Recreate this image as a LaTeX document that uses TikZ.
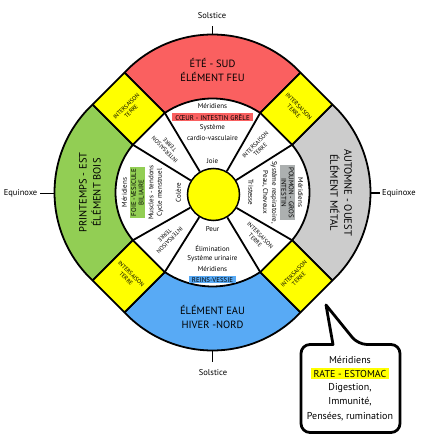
\documentclass[tikz,border=0pt]{standalone}
\usepackage{fontspec}
\setmainfont{PT Sans}
\usetikzlibrary{calc}
\definecolor{feu}{RGB}{250,96,96}
\definecolor{bois}{RGB}{146,206,84}
\definecolor{metal}{RGB}{204,204,204}
\definecolor{eau}{RGB}{88,170,245}
\definecolor{terre}{RGB}{255,255,0}
\definecolor{metalhl}{RGB}{172,176,176}
\newcommand{\colsector}[4]{%
  \filldraw[fill=#2, sectorline] ({#1+36.30}:148.71) arc[start angle={#1+46.86}, end angle={#1-46.86}, radius=120.65] -- ({#1-30.96}:92.77) arc[start angle={#1-#3}, end angle={#1+#3}, radius=#4] -- cycle;}
\begin{document}
\begin{tikzpicture}[x=1pt,y=1pt,
  sectorline/.style={draw=black, line width=1.8pt, line join=round},
  sepline/.style={draw=black, line width=1.8pt},
  ttl/.style={font=\fontsize{10.5}{14}\selectfont, align=center, inner sep=0pt},
  txt/.style={font=\fontsize{7}{8.4}\selectfont, inner sep=0pt, align=center},
  hl/.style={font=\fontsize{6.9}{7.6}\selectfont, inner xsep=2pt, inner ysep=1pt, align=center},
  small/.style={font=\fontsize{5.8}{7}\selectfont, inner sep=0pt, align=center},
  lbl/.style={font=\fontsize{8.5}{10}\selectfont, inner sep=0pt},
  tickline/.style={line width=1.8pt},
  bub/.style={font=\fontsize{10}{14}\selectfont, inner sep=0pt},
  bubline/.style={draw=black, line width=2.8pt, fill=white, line join=round}]

\path[use as bounding box, fill=white] (-212.5,-245.5) rectangle (216.5,192.5);

% outer coloured sectors
\colsector{90}{feu}{33.68}{86.05}
\colsector{270}{eau}{33.68}{86.05}
\colsector{180}{bois}{40.16}{73.99}
\colsector{0}{metal}{40.16}{73.99}

% intersaison rectangles
\foreach \d in {45,135,225,315}
  \filldraw[fill=terre, sectorline, rotate=\d] (90,-22.5) rectangle (147,22.5);

% centre
\node[circle, fill=terre, draw=black, line width=1.5pt, minimum size=52pt, inner sep=0pt] (centre) at (1,-2) {};
\foreach \a [count=\i] in {30.96,59.04,120.96,149.04,210.96,239.04,300.96,329.04} {
  \coordinate (ic\i) at (\a:92.77);
  \draw[sepline] (centre) -- (ic\i);
}

% ticks and outside labels
\node[lbl] (solN) at (-0.5,176.8) {Solstice};
\coordinate (tN1) at (0,157.5); \coordinate (tN2) at (0,166);
\draw[tickline] (tN1) -- (tN2);
\node[lbl] (solS) at (0.5,-180.5) {Solstice};
\coordinate (tS1) at (0,-157.5); \coordinate (tS2) at (0,-169);
\draw[tickline] (tS1) -- (tS2);
\node[lbl, anchor=east] (eqW) at (-175,-1) {Equinoxe};
\coordinate (tW1) at (-158.5,-1); \coordinate (tW2) at (-172.5,-1);
\draw[tickline] (tW1) -- (tW2);
\node[lbl, anchor=west] (eqE) at (169.5,-0.5) {Equinoxe};
\coordinate (tE1) at (158.5,-0.5); \coordinate (tE2) at (167,-0.5);
\draw[tickline] (tE1) -- (tE2);

% titles
\node[ttl] (feuT) at (0,122.8) {ÉTÉ - SUD\\ÉLÉMENT FEU};
\node[ttl] (eauT) at (0,-124.5) {ÉLÉMENT EAU\\HIVER -NORD};
\node[ttl, rotate=90] (boisT) at (-122.5,0) {PRINTEMPS - EST\\ÉLÉMENT BOIS};
\node[ttl, rotate=-90] (metalT) at (128.5,0) {AUTOMNE - OUEST\\ÉLÉMENT MÉTAL};

% intersaison texts
\node[small, rotate=45] (iw1) at (45:64) {INTERSAISON\\TERRE};
\node[small, rotate=135] (iw2) at (135:64) {INTERSAISON\\TERRE};
\node[small, rotate=225] (iw3) at (225:64) {INTERSAISON\\TERRE};
\node[small, rotate=-45] (iw4) at (315:64) {INTERSAISON\\TERRE};
\node[small, rotate=-45] (iy1) at (45:118.5) {INTERSAISON\\TERRE};
\node[small, rotate=45] (iy2) at (135:118.5) {INTERSAISON\\TERRE};
\node[small, rotate=-45] (iy3) at (225:118.5) {INTERSAISON\\TERRE};
\node[small, rotate=45] (iy4) at (315:118.5) {INTERSAISON\\TERRE};

% top sector
\node[txt] (tM) at (0,86.5) {Méridiens};
\node[hl, fill=feu, inner xsep=3pt] (tH) at (0,75.2) {CŒUR - INTESTIN GRÊLE};
\node[txt] (tS) at (0,64.8) {Système};
\node[txt] (tC) at (0,54.2) {cardio-vasculaire};
\node[txt] (tJ) at (0,31.8) {Joie};

% bottom sector
\node[txt] (bP) at (0,-37) {Peur};
\node[txt] (bE) at (0,-55.8) {Élimination};
\node[txt] (bS) at (0,-66.5) {Système urinaire};
\node[txt] (bM) at (0,-76.8) {Méridiens};
\node[hl, fill=eau, inner xsep=3pt] (bH) at (0,-87.3) {REINS-VESSIE};

% left sector
\node[txt, rotate=90] (lM) at (-88,0) {Méridiens};
\node[hl, fill=bois, rotate=90] (lH) at (-75,0) {FOIE -VESICULE\\BILIAIRE};
\node[txt, rotate=90] (lMu) at (-61.5,0) {Muscles - tendons};
\node[txt, rotate=90] (lCy) at (-52.5,0) {Cycle menstruel};
\node[txt, rotate=90] (lCo) at (-34.2,0) {Colère};

% right sector
\node[txt, rotate=-90] (rM) at (88,0) {Méridiens};
\node[hl, fill=metalhl, rotate=-90] (rH) at (75,0) {POUMON - GROS\\INTESTIN};
\node[txt, rotate=-90] (rS) at (61.5,0) {Système respiratoire,};
\node[txt, rotate=-90] (rP) at (52.5,0) {Peau, Cheveux};
\node[txt, rotate=-90] (rT) at (38.2,0) {Tristesse};

% speech bubble
\draw[bubline] (104,-152) [rounded corners=9pt] -- (88.5,-152) -- (88.5,-240) -- (187.5,-240) -- (187.5,-152) -- (145.5,-152) [sharp corners] -- (113.5,-112.5) -- (120.5,-152) -- cycle;
\node[bub] (sM) at (137.5,-167.5) {Méridiens};
\node[bub, fill=terre, inner xsep=3pt, inner ysep=1.5pt] (sH) at (137.5,-181) {RATE - ESTOMAC};
\node[bub] (sD) at (137.5,-195.8) {Digestion,};
\node[bub] (sI) at (137.5,-209.2) {Immunité,};
\node[bub] (sP) at (137.5,-224.2) {Pensées, rumination};
\end{tikzpicture}
\end{document}
